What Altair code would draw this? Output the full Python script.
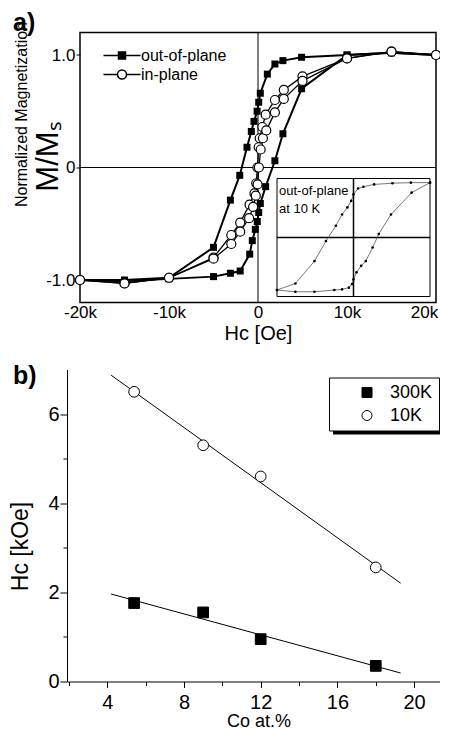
import altair as alt
import pandas as pd

FONT = "Liberation Sans"

# ---------------- panel a : hysteresis loops (H in Oe, M/Ms) ----------------
oop_down_h = [20000, 15000, 10000, 4900, 2800, 1900, 1050, 260, 80, -100, -450, -750,
              -1240, -2050, -3100, -5000, -10000, -15000, -20000]
oop_down_m = [1.00, 1.02, 1.00, 0.98, 0.95, 0.92, 0.83, 0.66, 0.58, 0.50, 0.41, 0.32,
              0.18, -0.07, -0.29, -0.71, -0.98, -1.00, -1.00]
oop_up_h = [-20000, -15000, -10000, -5000, -3100, -2000, -930, -640, -300, -80, 80, 260,
            860, 1900, 2800, 4900, 10000, 15000, 20000]
oop_up_m = [-1.00, -1.01, -0.99, -0.97, -0.94, -0.92, -0.77, -0.65, -0.55, -0.48, -0.40, -0.32,
            -0.17, 0.06, 0.30, 0.70, 1.00, 1.02, 1.00]
ip_down_h = [20000, 15000, 10000, 5000, 2900, 1900, 860, 490, 190, 70, -70, -200, -400,
             -950, -2000, -3000, -5000, -10000, -15000, -20000]
ip_down_m = [1.00, 1.03, 0.97, 0.81, 0.69, 0.60, 0.47, 0.36, 0.26, 0.18, 0.00, -0.14, -0.23,
             -0.33, -0.49, -0.60, -0.80, -0.98, -1.03, -1.00]
ip_up_h = [-20000, -15000, -10000, -5000, -3000, -2000, -1000, -550, -250, -50, 100, 300, 550,
           930, 1900, 2900, 5000, 10000, 15000, 20000]
ip_up_m = [-1.00, -1.03, -0.98, -0.81, -0.68, -0.57, -0.45, -0.35, -0.25, -0.15, 0.00, 0.16, 0.26,
           0.33, 0.49, 0.61, 0.77, 0.97, 1.03, 1.00]

# inset: out-of-plane loop at 10 K (unlabelled axes)
inset_down_h = [20000, 15000, 10200, 5400, 2600, 1200, 0, -600, -1600, -3000, -4600, -7200,
                -10200, -15200, -20000]
inset_down_m = [0.93, 0.93, 0.92, 0.90, 0.86, 0.83, 0.73, 0.62, 0.51, 0.39, 0.20, -0.06,
                -0.40, -0.78, -0.89]
inset_up_h = [-20000, -15200, -10200, -5000, -3000, -1200, -400, 0, 800, 2000, 3200, 5000,
              6600, 9800, 15200, 20000]
inset_up_m = [-0.89, -0.92, -0.92, -0.89, -0.88, -0.85, -0.79, -0.71, -0.59, -0.48, -0.40, -0.17,
              0.06, 0.39, 0.76, 0.93]

series_a = ["out-of-plane", "in-plane"]
x_ticks_a = [-20000, -10000, 0, 10000, 20000]
y_ticks_a = [-1, 0, 1]

# ---------------- panel b : coercivity vs Co content ----------------
co_pct = [5.4, 9.0, 12.0, 18.0]
hc_300k = [1.76, 1.55, 0.95, 0.35]
hc_10k = [6.50, 5.30, 4.60, 2.56]
series_b = ["300K", "10K"]
x_ticks_b = [4, 8, 12, 16, 20]
x_minor_b = [2, 6, 10, 14, 18]
y_ticks_b = [0, 2, 4, 6]
y_minor_b = [1, 3, 5]


def branch(h, m, series, name):
    return pd.DataFrame({"H": h, "M": m, "series": series, "branch": name,
                         "idx": list(range(len(h)))})


oop_df = pd.concat([branch(oop_down_h, oop_down_m, "out-of-plane", "down"),
                    branch(oop_up_h, oop_up_m, "out-of-plane", "up")])
ip_df = pd.concat([branch(ip_down_h, ip_down_m, "in-plane", "down"),
                   branch(ip_up_h, ip_up_m, "in-plane", "up")])
inset_df = pd.concat([branch(inset_down_h, inset_down_m, "10K", "down"),
                      branch(inset_up_h, inset_up_m, "10K", "up")])
one = pd.DataFrame({"v": [0]})


def note(text, x, y, size, angle=0, weight="normal", align="center", baseline="middle"):
    return alt.Chart(one).mark_text(text=text, angle=angle, fontSize=size, fontWeight=weight,
                                    align=align, baseline=baseline, color="black",
                                    font=FONT).encode(x=alt.value(x), y=alt.value(y))


xa = alt.Scale(domain=[-20000, 20000], nice=False, zero=False)
ya = alt.Scale(domain=[-1.2, 1.2], nice=False, zero=False)

x_axis_a = alt.Axis(orient="bottom", values=x_ticks_a, grid=False, domain=False, ticks=False,
                    labelExpr="datum.value == 0 ? '0' : (datum.value / 1000) + 'k'",
                    labelOffset={"condition": {"test": "datum.value == 20000", "value": -12},
                                 "value": 0},
                    labelFontSize=17, labelPadding=2, labelFlush=False,
                    title="Hc  [Oe]", titleFontSize=20, titlePadding=3, titleFontWeight="normal")
y_axis_a = alt.Axis(orient="left", values=y_ticks_a, grid=False, domain=False, tickSize=4,
                    labelExpr="datum.value == 0 ? '0' : (datum.value > 0 ? '1.0' : '-1.0')",
                    labelFontSize=17, labelPadding=1, title=None)

zero_v = alt.Chart(one).mark_rule(color="black", strokeWidth=1).encode(
    x=alt.X("v:Q", scale=xa, axis=None))
zero_h = alt.Chart(one).mark_rule(color="black", strokeWidth=1).encode(
    y=alt.Y("v:Q", scale=ya, axis=None))

oop_lines = alt.Chart(oop_df).mark_line(color="black", strokeWidth=2).encode(
    x=alt.X("H:Q", scale=xa, axis=None), y=alt.Y("M:Q", scale=ya, axis=None),
    detail="branch:N", order="idx:Q")
ip_lines = alt.Chart(ip_df).mark_line(color="black", strokeWidth=1.3).encode(
    x=alt.X("H:Q", scale=xa, axis=None), y=alt.Y("M:Q", scale=ya, axis=None),
    detail="branch:N", order="idx:Q")
oop_pts = alt.Chart(oop_df).mark_point(shape="square", filled=True, color="black",
                                       size=49, opacity=1).encode(
    x=alt.X("H:Q", scale=xa, axis=x_axis_a), y=alt.Y("M:Q", scale=ya, axis=y_axis_a))
ip_pts = alt.Chart(ip_df).mark_point(shape="circle", filled=True, fill="white", stroke="black",
                                     strokeWidth=1.2, size=81, opacity=1).encode(
    x=alt.X("H:Q", scale=xa, axis=None), y=alt.Y("M:Q", scale=ya, axis=None))

title_a1 = note("Normalized Magnetization", -58, 82, 16, angle=270)
title_a2 = note("M/Mₛ", -31.5, 124, 31, angle=270)
label_a = note("a)", -67, -2, 25, weight="bold", align="left", baseline="alphabetic")

path_oop = "M-0.95,0H2.75M0.55,-0.35H1.25V0.35H0.55Z"
path_ip = ("M-0.95,0H0.45M1.35,0H2.75M1.35,0A0.45,0.45,0,1,1,0.45,0"
           "A0.45,0.45,0,1,1,1.35,0Z")
legend_a = alt.Legend(orient="none", legendX=22, legendY=12, title=None, padding=0,
                      symbolSize=400, symbolStrokeWidth=1.5, symbolStrokeColor="black",
                      symbolOpacity=1, labelFontSize=16, labelOffset=17, rowPadding=0,
                      labelColor="black", labelFont=FONT)
legend_layer_a = alt.Chart(pd.DataFrame({"series": series_a})).mark_point(
    filled=True, opacity=0).encode(
    shape=alt.Shape("series:N", scale=alt.Scale(domain=series_a, range=[path_oop, path_ip]),
                    legend=legend_a),
    fill=alt.Fill("series:N", scale=alt.Scale(domain=series_a, range=["black", "white"]),
                  legend=legend_a),
    stroke=alt.Stroke("series:N", scale=alt.Scale(domain=series_a, range=["black", "black"]),
                      legend=legend_a))

main_a = alt.layer(zero_v, zero_h, oop_lines, ip_lines, oop_pts, ip_pts, title_a1, title_a2,
                   label_a, legend_layer_a).resolve_axis(x="independent", y="independent")

# inset, drawn through its own scales placed in the lower right of panel a
ix = alt.Scale(domain=[-20000, 20000], range=[197, 350], nice=False, zero=False)
iy = alt.Scale(domain=[-1, 1], range=[264, 146], nice=False, zero=False)
inset_frame = alt.Chart(one).mark_rect(fill="white", stroke="black", strokeWidth=1).encode(
    x=alt.X(datum=-20000, scale=ix, axis=None), x2=alt.X2(datum=20000),
    y=alt.Y(datum=-1, scale=iy, axis=None), y2=alt.Y2(datum=1))
inset_v = alt.Chart(one).mark_rule(color="black", strokeWidth=1.5).encode(
    x=alt.X(datum=0, scale=ix, axis=None),
    y=alt.Y(datum=-1, scale=iy, axis=None), y2=alt.Y2(datum=1))
inset_h = alt.Chart(one).mark_rule(color="black", strokeWidth=1.5).encode(
    y=alt.Y(datum=0, scale=iy, axis=None),
    x=alt.X(datum=-20000, scale=ix, axis=None), x2=alt.X2(datum=20000))
inset_line = alt.Chart(inset_df).mark_line(color="#555555", strokeWidth=0.8).encode(
    x=alt.X("H:Q", scale=ix, axis=None), y=alt.Y("M:Q", scale=iy, axis=None),
    detail="branch:N", order="idx:Q")
inset_dots = alt.Chart(inset_df).mark_circle(color="black", size=7, opacity=1).encode(
    x=alt.X("H:Q", scale=ix, axis=None), y=alt.Y("M:Q", scale=iy, axis=None))
inset_text = alt.Chart(pd.DataFrame({"t": ["out-of-plane\n  at 10 K"]})).mark_text(
    align="left", baseline="alphabetic", fontSize=13, lineBreak="\n", lineHeight=18,
    color="black", font=FONT).encode(text="t:N", x=alt.value(199), y=alt.value(162))
inset = alt.layer(inset_frame, inset_v, inset_h, inset_line, inset_dots, inset_text)

panel_a = alt.layer(main_a, inset).resolve_scale(x="independent", y="independent").properties(
    width=356, height=270,
    view=alt.ViewBackground(stroke="black", strokeWidth=1.5, fill="white"))

# ---------------- panel b ----------------
b_df = pd.DataFrame({"co": co_pct * 2, "hc": hc_300k + hc_10k,
                     "series": ["300K"] * len(co_pct) + ["10K"] * len(co_pct)})
xb = alt.Scale(domain=[1.9, 21.35], range=[-13, 360], nice=False, zero=False)
yb = alt.Scale(domain=[0, 7], nice=False, zero=False)

x_axis_b = alt.Axis(orient="bottom", values=x_ticks_b, grid=False, tickSize=6,
                    labelFontSize=20, labelPadding=5, labelFlush=False,
                    title="Co at.%", titleFontSize=18, titleFontWeight="normal",
                    titlePadding=0, titleX=178.5)
y_axis_b = alt.Axis(orient="left", offset=13, values=y_ticks_b, grid=False, tickSize=7,
                    labelFontSize=20, labelPadding=1, title=None)

legend_b = alt.Legend(orient="none", legendX=249, legendY=8, title=None, padding=6,
                      symbolOffset=23, labelOffset=14, symbolSize=100, symbolStrokeWidth=1,
                      symbolStrokeColor="black", symbolOpacity=1, labelFontSize=18,
                      rowPadding=5, fillColor="white", strokeColor="black",
                      labelColor="black", labelFont=FONT)

shadow_b = alt.Chart(one).mark_rect(color="black").encode(
    x=alt.value(253), x2=alt.value(368), y=alt.value(12), y2=alt.value(65))
label_b = note("b)", -67, 14, 25, weight="bold", align="left", baseline="alphabetic")
title_b = note("Hc  [kOe]", -59, 177, 23, angle=270)
fit_b = alt.Chart(b_df).transform_regression(
    "co", "hc", groupby=["series"], extent=[4.2, 19.3]).mark_line(
    color="black", strokeWidth=1).encode(
    x=alt.X("co:Q", scale=xb, axis=None), y=alt.Y("hc:Q", scale=yb, axis=None),
    detail="series:N")
pts_b = alt.Chart(b_df).mark_point(filled=True, strokeWidth=1, size=115,
                                   opacity=1).encode(
    x=alt.X("co:Q", scale=xb, axis=x_axis_b), y=alt.Y("hc:Q", scale=yb, axis=y_axis_b),
    shape=alt.Shape("series:N", scale=alt.Scale(domain=series_b, range=["square", "circle"]),
                    legend=legend_b),
    fill=alt.Fill("series:N", scale=alt.Scale(domain=series_b, range=["black", "white"]),
                  legend=legend_b),
    stroke=alt.Stroke("series:N", scale=alt.Scale(domain=series_b, range=["black", "black"]),
                      legend=legend_b))
minor_b = alt.Chart(b_df).mark_point(opacity=0).encode(
    x=alt.X("co:Q", scale=xb,
            axis=alt.Axis(orient="bottom", values=x_minor_b, labels=False, domain=False,
                          grid=False, tickSize=4, title=None)),
    y=alt.Y("hc:Q", scale=yb,
            axis=alt.Axis(orient="left", offset=13, values=y_minor_b, labels=False,
                          domain=False, grid=False, tickSize=4, title=None)))

panel_b = alt.layer(shadow_b, fit_b, pts_b, minor_b, label_b, title_b).resolve_axis(
    x="independent", y="independent").properties(width=360, height=312)

chart = alt.vconcat(panel_a, panel_b, spacing=18).resolve_scale(
    shape="independent", fill="independent", stroke="independent").properties(
    padding={"left": 1, "top": 1.5, "right": -14, "bottom": -3}
).configure(font=FONT).configure_view(stroke="transparent").configure_axis(
    labelColor="black", titleColor="black", tickColor="black", domainColor="black",
    labelFont=FONT, titleFont=FONT, domainWidth=1, tickWidth=1
)

chart.save("out.html", embed_options={"renderer": "svg", "actions": False})
